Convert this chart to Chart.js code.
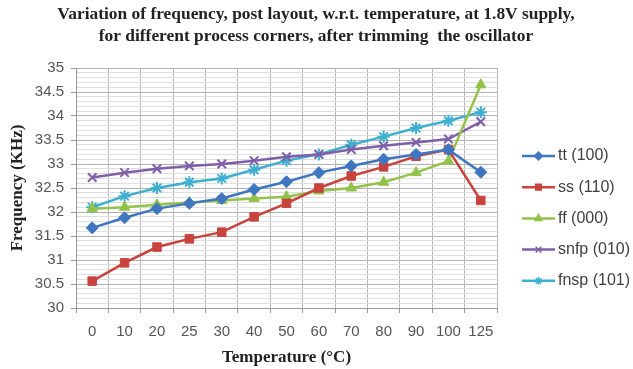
<!DOCTYPE html>
<html>
<head>
<meta charset="utf-8">
<script src="https://cdn.jsdelivr.net/npm/chart.js@4"></script>
<style>
  html, body { margin: 0; padding: 0; background: #fff; }
  #wrap { width: 633px; height: 369px; }
</style>
</head>
<body>
<div id="wrap"><canvas id="myChart" width="633" height="369"></canvas></div>
<script>
// temperatures (deg C) on the x axis
const temps = ['0', '10', '20', '25', '30', '40', '50', '60', '70', '80', '90', '100', '125']

// frequency in KHz for each process corner
const tt = [31.67, 31.88, 32.07, 32.18, 32.28, 32.47, 32.63, 32.82, 32.96, 33.1, 33.2, 33.3, 32.83]
const ss = [30.56, 30.94, 31.27, 31.44, 31.58, 31.9, 32.18, 32.5, 32.75, 32.94, 33.16, 33.3, 32.24]
const ff = [32.07, 32.1, 32.15, 32.2, 32.24, 32.28, 32.32, 32.44, 32.5, 32.62, 32.82, 33.06, 34.65]
const snfp = [32.72, 32.82, 32.9, 32.96, 33.0, 33.07, 33.15, 33.2, 33.3, 33.38, 33.45, 33.52, 33.88]
const fnsp = [32.1, 32.33, 32.5, 32.62, 32.7, 32.88, 33.07, 33.2, 33.4, 33.57, 33.75, 33.9, 34.08]

const seriesNames = ['tt (100)', 'ss (110)', 'ff (000)', 'snfp (010)', 'fnsp (101)']
const seriesColors = ['#3F76C0', '#C8423E', '#93C24A', '#7E5FA8', '#3FAFCF']
const seriesMarkers = ['rectRot', 'rect', 'triangle', 'crossRot', 'star']
const seriesData = [tt, ss, ff, snfp, fnsp]

const titleLines = ['Variation of frequency, post layout, w.r.t. temperature, at 1.8V supply,',
                    'for different process corners, after trimming  the oscillator']

const serif = "'Liberation Serif', 'Times New Roman', serif"
const sans = "'Liberation Sans', Arial, sans-serif"

function isMajor(v) {
    return Math.abs(v * 2 - Math.round(v * 2)) < 1e-6
}

// title centred on the whole picture, not just the plot box
const pageTitle = {
    id: 'pageTitle',
    afterDraw(chart) {
        const ctx = chart.ctx
        ctx.save()
        ctx.fillStyle = '#222'
        ctx.font = 'bold 17.4px ' + serif
        ctx.textAlign = 'center'
        ctx.textBaseline = 'middle'
        ctx.fillText(titleLines[0], 316, 15)
        ctx.fillText(titleLines[1], 316, 37)
        ctx.restore()
    }
}

// legend drawn by hand: line with marker, like the spreadsheet one
const sideLegend = {
    id: 'sideLegend',
    afterDraw(chart) {
        const ctx = chart.ctx
        const x0 = 522, x1 = 555, top = 156, step = 31.2
        ctx.save()
        chart.data.datasets.forEach((ds, i) => {
            const y = top + i * step
            ctx.strokeStyle = ds.borderColor
            ctx.lineWidth = 2.5
            ctx.beginPath()
            ctx.moveTo(x0, y)
            ctx.lineTo(x1, y)
            ctx.stroke()
            if (Chart.helpers && Chart.helpers.drawPoint) {
                ctx.fillStyle = ds.backgroundColor
                ctx.strokeStyle = ds.borderColor
                ctx.lineWidth = 1.5
                Chart.helpers.drawPoint(ctx, { pointStyle: ds.pointStyle, radius: 4, rotation: 0, borderWidth: 1.5 }, (x0 + x1) / 2, y)
            }
            ctx.fillStyle = '#404040'
            ctx.font = '16px ' + sans
            ctx.textAlign = 'left'
            ctx.textBaseline = 'middle'
            ctx.fillText(ds.label, x1 + 3, y)
        })
        ctx.restore()
    }
}

let datasets = []
for (let i = 0; i < seriesData.length; i++) {
    datasets.push({
        label: seriesNames[i],
        data: seriesData[i],
        borderColor: seriesColors[i],
        backgroundColor: seriesColors[i],
        pointStyle: seriesMarkers[i],
        pointRadius: 6,
        pointBorderWidth: (seriesMarkers[i] === 'crossRot' || seriesMarkers[i] === 'star') ? 2 : 1,
        borderWidth: 2.5,
        tension: 0
    })
}

let ctx = document.getElementById('myChart').getContext('2d');
let myChart = new Chart(ctx, {
    type: 'line',
    data: {
        labels: temps,
        datasets: datasets
    },
    options: {
        responsive: false,
        animation: false,
        layout: { padding: { top: 68, right: 136, left: 0, bottom: 0 } },
        plugins: {
            legend: { display: false },
            tooltip: { enabled: false },
            title: { display: false }
        },
        scales: {
            x: {
                offset: true,
                afterFit: (scale) => { scale.height = 61 },
                grid: {
                    offset: true,
                    color: '#b8b8b8',
                    tickLength: 5,
                    tickColor: '#999'
                },
                border: { color: '#999' },
                ticks: { color: '#555', font: { family: sans, size: 15 }, padding: 10, maxRotation: 0, autoSkip: false },
                title: {
                    display: true,
                    text: 'Temperature (°C)',
                    color: '#222',
                    font: { family: serif, size: 17, weight: 'bold' },
                    padding: 1
                }
            },
            y: {
                min: 30,
                max: 35,
                afterFit: (scale) => { scale.width = 76 },
                afterBuildTicks: (scale) => {
                    let t = []
                    for (let k = 0; k <= 50; k++) t.push({ value: 30 + k / 10 })
                    scale.ticks = t
                },
                grid: {
                    color: (c) => isMajor(c.tick.value) ? '#b0b0b0' : '#dedede',
                    tickColor: (c) => isMajor(c.tick.value) ? '#999' : 'rgba(0,0,0,0)',
                    tickLength: 5
                },
                border: { color: '#999' },
                ticks: {
                    autoSkip: false,
                    color: '#555',
                    font: { family: sans, size: 15 },
                    padding: 7,
                    callback: (v) => isMajor(v) ? String(Math.round(v * 2) / 2) : ''
                },
                title: {
                    display: true,
                    text: 'Frequency (KHz)',
                    color: '#222',
                    font: { family: serif, size: 17, weight: 'bold' },
                    padding: 7
                }
            }
        }
    },
    plugins: [pageTitle, sideLegend]
});
</script>
</body>
</html>
